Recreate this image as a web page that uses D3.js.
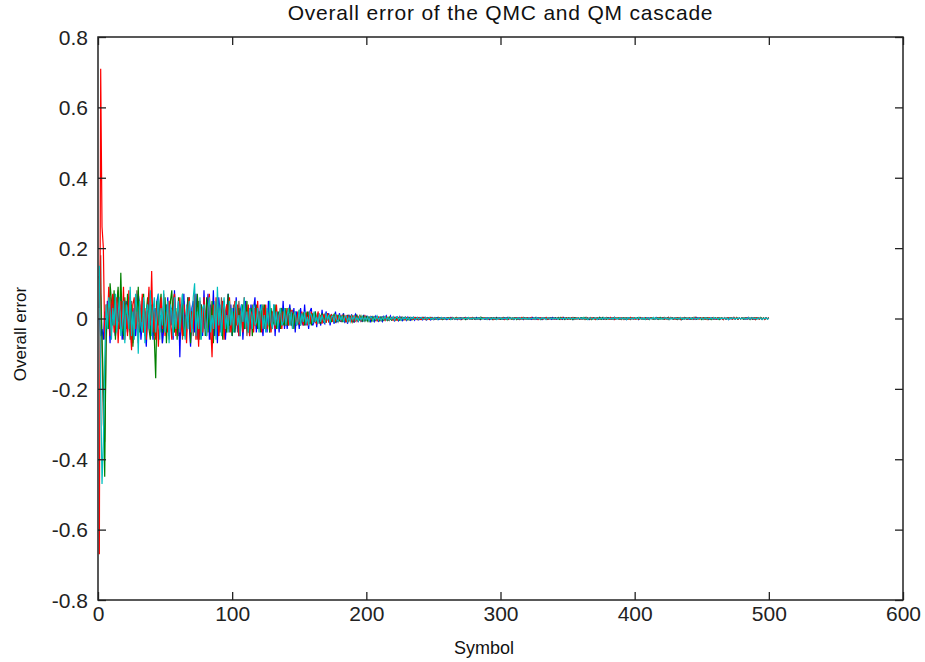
<!DOCTYPE html>
<html><head><meta charset="utf-8">
<script src="https://cdn.jsdelivr.net/npm/d3@7"></script>
<style>html,body{margin:0;padding:0;background:#fff;}svg{display:block;}</style>
</head><body>
<svg id="chart" width="925" height="662"></svg>
<script>
// Values are in units of 0.001 (milli), read/estimated from the picture; symbol index = position + 1
const titleText = "Overall error of the QMC and QM cascade";
const xLabelText = "Symbol";
const yLabelText = "Overall error";
const xTicks = [0,100,200,300,400,500,600];
const xTickLabels = ["0","100","200","300","400","500","600"];
const yTicks = [-0.8,-0.6,-0.4,-0.2,0,0.2,0.4,0.6,0.8];
const yTickLabels = ["-0.8","-0.6","-0.4","-0.2","0","0.2","0.4","0.6","0.8"];
const seriesNames = ["brown","blue","green","red","cyan"];
const seriesColors = ["#7a5848","#0000ff","#008000","#ff0000","#00bfbf"];

const brownMilli = [
30,180,-100,-300,-350,-90,40,-20,60,-40,20,70,-50,30,80,-30,-10,50,-60,40,
10,-40,60,-20,50,-70,30,-50,80,-10,40,-30,60,-40,20,-60,50,-10,70,-30,
40,-50,30,-20,60,-40,10,-70,50,-30,40,20,-60,30,-20,50,70,-30,-10,-50,
40,20,-60,50,-40,30,-10,60,-30,20,-50,40,10,-60,50,-20,30,-40,60,-30,
40,-20,50,-60,30,10,-30,40,-50,20,-40,60,-20,30,-50,40,10,-40,20,-30,
40,-30,20,-40,50,-20,10,30,-30,40,-50,20,-10,-30,40,-20,30,-30,10,20,
-30,20,40,-30,10,-20,30,-40,20,-10,30,-20,-10,20,-30,10,30,-20,10,-20,
20,-20,10,-15,25,-10,-20,15,10,-20,20,-10,5,-15,15,-10,20,-15,-5,10,
-10,15,-5,10,-15,10,-10,5,12,-10,8,-12,5,-8,10,-6,-5,10,-8,4,
8,-6,4,-9,6,-3,8,-5,4,-8,6,-4,7,-5,3,-7,4,-3,6,-4,
-2,-6,4,3,-6,4,-2,5,-3,2,-5,4,-2,5,-3,2,-5,3,-2,4,
-3,2,4,-3,-2,4,-3,1,4,-3,-1,3,-2,2,3,-2,2,-3,-2,1,
3,-2,-1,3,-2,1,3,-2,2,-2,-1,2,3,-1,-2,2,-1,2,-2,-1,
-1,2,-2,3,-1,1,-2,2,-1,2,-3,1,2,-2,1,-1,2,-2,3,-1,
1,-1,2,-2,3,-1,1,-2,2,-1,2,-2,1,-3,2,1,-1,2,-2,1,
2,-2,1,-1,2,-2,3,-1,1,-2,2,-1,2,-3,1,2,-1,1,-2,2,
-2,1,-1,2,-2,3,-1,1,2,-2,1,-1,2,-1,1,-2,2,-1,1,-2,
2,-1,3,-2,1,-2,2,-3,1,2,-2,1,-1,3,-2,2,-1,1,-2,2,
-1,2,-3,1,2,-2,1,-1,2,-2,1,2,-1,1,-2,3,-2,1,-1,2,
1,-2,2,-1,3,-2,1,-1,2,-3,2,1,-2,2,-1,1,-3,2,-1,2,
-1,1,-2,2,-1,1,-1,2,-2,1,-1,2,-1,1,-2,1,-1,2,-1,1,
-2,3,-1,2,-3,1,2,-1,-2,2,1,-3,2,-1,1,-2,3,-1,2,-2,
2,-2,1,-1,3,-2,1,2,-1,1,-2,2,-1,2,-3,1,-1,2,-2,1,
-2,1,2,-1,1,-3,2,-2,1,2,-1,1,-2,3,-1,2,-2,1,-1,2,
1,-2,2,-1,1,-1,2,-2,1,-3,2,-1,1,2,-2,1,-1,2,-1,1
];
const blueMilli = [
0,-50,-30,-60,20,-40,50,10,-70,30,60,-20,-50,40,-10,20,70,-60,-30,10,
50,-40,20,60,-70,-20,30,-50,10,70,40,-60,-10,50,-30,-80,20,60,-40,10,
-60,30,-20,50,70,-40,10,-70,-30,40,-10,60,-50,20,30,-60,80,-20,-40,50,
-110,40,-30,70,-50,10,60,-20,-80,30,50,-40,70,-10,-60,20,40,-50,80,-30,
10,70,-60,40,-20,80,-50,30,-70,60,10,-40,50,-30,-60,20,70,-20,40,-50,
30,-40,60,-10,-50,20,40,-60,10,50,-30,20,-50,40,-20,30,60,-40,10,-30,
40,-20,-50,30,10,-40,50,-10,20,-30,40,-50,20,10,-40,30,-20,50,-30,20,
-30,10,40,-20,-10,30,-40,20,10,-30,30,-10,-20,40,-20,10,-30,20,30,-20,
-10,20,-25,15,5,-20,25,-10,-15,20,-5,15,-20,10,5,-15,20,-10,-5,15,
-10,5,15,-12,8,-15,10,-5,12,-8,-10,12,5,-10,8,-6,-8,10,-5,6,
6,-4,-9,5,3,-8,6,-3,-8,4,4,-8,5,-3,7,-4,-3,7,-4,2,
-6,4,3,-6,5,-2,-6,3,2,-5,4,-2,-5,3,2,-5,3,-1,-4,3,
2,-4,3,-2,-4,3,1,-4,3,-1,-3,3,1,-3,2,-1,-3,2,1,-3,
2,-1,3,-2,1,-2,2,-3,1,2,-2,1,-1,3,-2,2,-1,1,-2,2,
-2,3,-1,2,-3,1,2,-1,-2,2,1,-3,2,-1,1,-2,3,-1,2,-2,
1,-2,2,-1,3,-2,1,-1,2,-3,2,1,-2,2,-1,1,-3,2,-1,2,
-1,2,-2,3,-1,1,-2,2,-1,2,-3,1,2,-2,1,-1,2,-2,3,-1,
2,-2,1,-1,2,-2,3,-1,1,-2,2,-1,2,-3,1,2,-1,1,-2,2,
-2,1,2,-1,1,-3,2,-2,1,2,-1,1,-2,3,-1,2,-2,1,-1,2,
1,-1,2,-2,3,-1,1,-2,2,-1,2,-2,1,-3,2,1,-1,2,-2,1,
-1,2,-3,1,2,-2,1,-1,2,-2,1,2,-1,1,-2,3,-2,1,-1,2,
2,-2,1,-1,3,-2,1,2,-1,1,-2,2,-1,2,-3,1,-1,2,-2,1,
-2,1,-1,2,-2,3,-1,1,2,-2,1,-1,2,-1,1,-2,2,-1,1,-2,
1,-2,2,-1,1,-1,2,-2,1,-3,2,-1,1,2,-2,1,-1,2,-1,1,
-1,1,-2,2,-1,1,-1,2,-2,1,-1,2,-1,1,-2,1,-1,2,-1,1
];
const greenMilli = [
120,60,-50,-200,-450,-60,40,-30,100,50,-20,80,-60,40,90,-30,130,-10,-50,60,
-30,70,20,-60,40,-80,10,60,-20,90,-40,30,-10,70,-50,20,60,-30,-60,40,
10,-60,-170,50,-20,30,70,-40,-10,60,-70,20,-30,50,80,-20,-40,30,-60,60,
20,-30,70,-50,10,-40,60,30,-70,20,-20,50,-40,70,10,-60,40,-10,30,-50,
60,-40,20,-30,50,-70,40,-10,60,-50,30,20,-60,50,-10,-40,70,-20,30,-50,
20,-40,50,-20,30,-50,10,40,-30,-10,50,-40,20,30,-50,10,-20,40,-30,20,
-40,30,-10,40,-30,20,10,-40,30,-20,-10,40,-30,10,20,-30,30,-10,-20,30,
-20,10,30,-20,15,-30,20,-10,-15,25,-20,10,15,-20,5,20,-15,10,-20,15,
-10,20,-15,5,10,-15,15,-10,5,-12,15,-8,10,-10,5,12,-10,-5,10,-8,
6,-10,8,-4,-8,10,-6,5,8,-9,4,-6,8,-5,-4,7,-6,5,-7,4,
-7,4,3,-7,5,-2,-6,5,2,-6,4,-3,-6,3,3,-5,4,-2,-5,3,
2,-5,3,-2,-5,3,2,-4,3,-2,-4,2,2,-4,3,-1,-3,3,2,-3,
-2,3,-1,2,-3,2,-1,3,-2,1,3,-2,-2,3,-1,2,-3,1,-2,2,
2,-2,1,-1,2,-2,3,-1,1,-2,2,-1,2,-3,1,2,-1,1,-2,2,
-2,1,-1,2,-2,3,-1,1,2,-2,1,-1,2,-1,1,-2,2,-1,1,-2,
-2,3,-1,2,-3,1,2,-1,-2,2,1,-3,2,-1,1,-2,3,-1,2,-2,
1,-2,2,-1,1,-1,2,-2,1,-3,2,-1,1,2,-2,1,-1,2,-1,1,
1,-1,2,-2,3,-1,1,-2,2,-1,2,-2,1,-3,2,1,-1,2,-2,1,
2,-1,3,-2,1,-2,2,-3,1,2,-2,1,-1,3,-2,2,-1,1,-2,2,
-1,1,-2,2,-1,1,-1,2,-2,1,-1,2,-1,1,-2,1,-1,2,-1,1,
-1,2,-2,3,-1,1,-2,2,-1,2,-3,1,2,-2,1,-1,2,-2,3,-1,
2,-2,1,-1,3,-2,1,2,-1,1,-2,2,-1,2,-3,1,-1,2,-2,1,
1,-2,2,-1,3,-2,1,-1,2,-3,2,1,-2,2,-1,1,-3,2,-1,2,
-1,2,-3,1,2,-2,1,-1,2,-2,1,2,-1,1,-2,3,-2,1,-1,2,
-2,1,2,-1,1,-3,2,-2,1,2,-1,1,-2,3,-1,2,-2,1,-1,2
];
const redMilli = [
-670,710,260,200,-60,40,-20,90,-50,30,70,-40,-10,60,-70,20,50,-30,90,-60,
10,-50,80,-20,-90,40,60,-30,20,-70,50,-10,70,-40,30,-60,20,90,-20,135,
-40,20,-60,40,-80,10,60,-30,70,-50,20,-40,50,-10,-60,30,70,-50,20,-30,
60,-20,-50,40,10,-70,30,60,-40,20,-30,70,-60,10,-80,50,20,-40,60,-10,
-50,30,70,-20,-110,40,-30,60,10,-50,30,-20,50,-60,20,40,-30,60,-40,10,
-30,50,-20,40,-50,10,30,-40,60,-10,-30,40,-50,20,10,-40,30,-20,50,-30,
20,-40,30,-10,40,-30,-10,30,-40,20,10,-30,40,-20,-10,30,-30,20,10,-20,
30,-20,-10,25,-30,15,10,-20,20,-15,-10,20,-20,10,15,-20,10,-15,20,-10,
15,-10,-15,20,-5,10,-15,10,5,-12,15,-8,-5,12,-10,8,-5,10,-8,5,
-8,10,-4,6,-10,8,-5,4,-8,9,-6,5,-7,3,8,-6,4,-5,7,-4,
3,-7,5,-2,-6,5,2,-6,4,-3,-6,4,2,-5,4,-2,-5,3,2,-5,
3,-2,-5,3,2,-4,3,-2,-4,3,1,-4,3,-1,-3,3,2,-3,2,-2,
-3,2,1,-3,2,-1,-3,2,1,-3,2,-1,-2,2,1,-2,2,-1,-2,1,
1,-2,2,-1,1,-1,2,-2,1,-3,2,-1,1,2,-2,1,-1,2,-1,1,
2,-2,1,-1,3,-2,1,2,-1,1,-2,2,-1,2,-3,1,-1,2,-2,1,
-1,2,-3,1,2,-2,1,-1,2,-2,1,2,-1,1,-2,3,-2,1,-1,2,
2,-1,3,-2,1,-2,2,-3,1,2,-2,1,-1,3,-2,2,-1,1,-2,2,
-2,1,-1,2,-2,3,-1,1,2,-2,1,-1,2,-1,1,-2,2,-1,1,-2,
-1,2,-2,3,-1,1,-2,2,-1,2,-3,1,2,-2,1,-1,2,-2,3,-1,
-2,3,-1,2,-3,1,2,-1,-2,2,1,-3,2,-1,1,-2,3,-1,2,-2,
-1,1,-2,2,-1,1,-1,2,-2,1,-1,2,-1,1,-2,1,-1,2,-1,1,
2,-2,1,-1,2,-2,3,-1,1,-2,2,-1,2,-3,1,2,-1,1,-2,2,
1,-1,2,-2,3,-1,1,-2,2,-1,2,-2,1,-3,2,1,-1,2,-2,1,
-2,1,2,-1,1,-3,2,-2,1,2,-1,1,-2,3,-1,2,-2,1,-1,2,
1,-2,2,-1,3,-2,1,-1,2,-3,2,1,-2,2,-1,1,-3,2,-1,2
];
const cyanMilli = [
150,-200,-470,-350,-120,40,-30,60,20,-60,30,-20,70,-40,10,60,-50,-20,50,-70,
40,10,-30,90,-50,20,-60,70,30,-100,50,-20,-40,60,-70,20,40,-30,80,-50,
20,60,-40,10,70,-60,30,-20,80,-40,-10,50,-70,40,20,-50,60,-30,10,50,
-40,30,70,-20,-60,40,-30,50,10,-40,60,100,-50,20,-30,60,-60,30,40,-20,
-50,30,60,-40,10,-30,50,-60,90,-20,40,-50,20,60,-30,10,-40,50,-20,30,
-40,30,50,-20,10,-50,40,-10,60,-30,20,-40,30,10,-30,40,-20,-10,30,-40,
20,40,-30,10,-40,30,-20,50,-10,-30,40,-20,20,-30,10,30,-20,-10,30,-20,
10,30,-20,20,-30,10,20,-20,-10,25,-20,15,-10,20,-15,5,-20,15,10,-15,
20,-10,5,-15,15,-10,10,-5,-12,15,-5,10,-12,5,8,-10,12,-5,-8,10,
-6,8,-10,5,6,-8,4,-9,6,-4,8,-5,3,-7,6,-4,5,-6,4,-5,
4,-8,5,3,-7,4,-3,7,-4,2,-6,4,-3,6,-4,2,-5,3,-2,5,
-4,2,5,-3,2,-5,3,-2,4,-3,2,-4,3,-1,4,-2,-2,3,-2,1,
3,-2,-2,3,-2,1,3,-2,1,-3,2,2,-3,1,-2,3,-1,2,-2,1,
-1,2,-3,1,2,-2,1,-1,2,-2,1,2,-1,1,-2,3,-2,1,-1,2,
1,-2,2,-1,3,-2,1,-1,2,-3,2,1,-2,2,-1,1,-3,2,-1,2,
-2,1,-1,2,-2,3,-1,1,2,-2,1,-1,2,-1,1,-2,2,-1,1,-2,
2,-2,1,-1,2,-2,3,-1,1,-2,2,-1,2,-3,1,2,-1,1,-2,2,
-1,1,-2,2,-1,1,-1,2,-2,1,-1,2,-1,1,-2,1,-1,2,-1,1,
-2,3,-1,2,-3,1,2,-1,-2,2,1,-3,2,-1,1,-2,3,-1,2,-2,
1,-1,2,-2,3,-1,1,-2,2,-1,2,-2,1,-3,2,1,-1,2,-2,1,
2,-1,3,-2,1,-2,2,-3,1,2,-2,1,-1,3,-2,2,-1,1,-2,2,
-2,1,2,-1,1,-3,2,-2,1,2,-1,1,-2,3,-1,2,-2,1,-1,2,
-1,2,-2,3,-1,1,-2,2,-1,2,-3,1,2,-2,1,-1,2,-2,3,-1,
1,-2,2,-1,1,-1,2,-2,1,-3,2,-1,1,2,-2,1,-1,2,-1,1,
2,-2,1,-1,3,-2,1,2,-1,1,-2,2,-1,2,-3,1,-1,2,-2,1
];
const seriesMilli = [brownMilli, blueMilli, greenMilli, redMilli, cyanMilli];

const svg = d3.select("#chart");
const W = 925, H = 662;
const m = {left: 98, right: 903, top: 37, bottom: 600};
const x = d3.scaleLinear().domain([0, 600]).range([m.left, m.right]);
const y = d3.scaleLinear().domain([-0.8, 0.8]).range([m.bottom, m.top]);

svg.append("rect").attr("width", W).attr("height", H).attr("fill", "#fff");

svg.append("defs").append("clipPath").attr("id", "pc")
  .append("rect").attr("x", m.left).attr("y", m.top)
  .attr("width", m.right - m.left).attr("height", m.bottom - m.top);

const line = d3.line().x((d, i) => x(i + 1)).y(d => y(d / 1000));
const plot = svg.append("g").attr("clip-path", "url(#pc)");
seriesMilli.forEach((s, k) => {
  plot.append("path").datum(s).attr("d", line)
    .attr("fill", "none").attr("stroke", seriesColors[k])
    .attr("stroke-width", 1.2).attr("stroke-linejoin", "miter");
});

const axisColor = "#222";
const tl = 8;
const font = "'Liberation Sans', Arial, sans-serif";
const gx = svg.append("g").attr("transform", `translate(0,${m.bottom})`)
  .call(d3.axisBottom(x).tickValues(xTicks).tickSize(-tl).tickPadding(6)
    .tickFormat((d, i) => xTickLabels[i]));
const gxt = svg.append("g").attr("transform", `translate(0,${m.top})`)
  .call(d3.axisTop(x).tickValues(xTicks).tickSize(-tl).tickFormat(""));
const gy = svg.append("g").attr("transform", `translate(${m.left},0)`)
  .call(d3.axisLeft(y).tickValues(yTicks).tickSize(-tl).tickPadding(10)
    .tickFormat((d, i) => yTickLabels[i]));
const gyr = svg.append("g").attr("transform", `translate(${m.right},0)`)
  .call(d3.axisRight(y).tickValues(yTicks).tickSize(-tl).tickFormat(""));
[gx, gxt, gy, gyr].forEach(g => {
  g.select(".domain").remove();
  g.selectAll(".tick line").attr("stroke", axisColor).attr("stroke-width", 1.3);
  g.selectAll(".tick text").attr("fill", "#222")
    .style("font-family", font).style("font-size", "21px");
});
gx.selectAll(".tick text").attr("dy", "0.71em");
gy.selectAll(".tick text").attr("dy", "0.35em");

svg.append("rect").attr("x", m.left).attr("y", m.top)
  .attr("width", m.right - m.left).attr("height", m.bottom - m.top)
  .attr("fill", "none").attr("stroke", axisColor).attr("stroke-width", 1.5);

svg.append("text").attr("x", (m.left + m.right) / 2).attr("y", 20)
  .attr("text-anchor", "middle").attr("fill", "#111")
  .style("font-family", font).style("font-size", "21px")
  .style("letter-spacing", "0.8px").text(titleText);

svg.append("text").attr("x", 484).attr("y", 654)
  .attr("text-anchor", "middle").attr("fill", "#111")
  .style("font-family", font).style("font-size", "18px")
  .text(xLabelText);

svg.append("text").attr("transform", "translate(26,334) rotate(-90)")
  .attr("text-anchor", "middle").attr("fill", "#111")
  .style("font-family", font).style("font-size", "17px")
  .text(yLabelText);
</script>
</body></html>
